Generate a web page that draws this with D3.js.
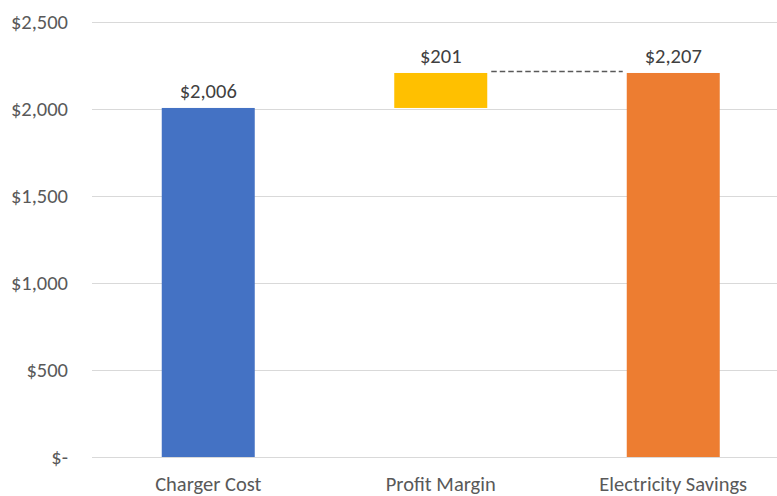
<!DOCTYPE html>
<html><head><meta charset="utf-8">
<script src="https://cdn.jsdelivr.net/npm/d3@7"></script>
<style>body{margin:0;background:#fff}svg{display:block}text{font-family:Calibri,Carlito,"Open Sans",sans-serif}</style>
</head><body>
<svg id="c" width="777" height="496"></svg>
<script>
const categories = ["Charger Cost", "Profit Margin", "Electricity Savings"];
const baseValues = [0, 2006, 0];
const barValues = [2006, 201, 2207];
const labels = ["$2,006", "$201", "$2,207"];
const colors = ["#4472C4", "#FFC000", "#ED7D31"];
const yTicks = [0, 500, 1000, 1500, 2000, 2500];
const yTickLabels = ["$-", "$500", "$1,000", "$1,500", "$2,000", "$2,500"];

const svg = d3.select("#c");
const y = d3.scaleLinear().domain([0, 2500]).range([457, 22]);
const x = d3.scaleBand().domain(categories).range([92, 789.5]).paddingInner(0.6).paddingOuter(0.3);
const fs = 20.5;

// gridlines
svg.append("g").selectAll("line").data(yTicks).join("line")
  .attr("x1", 92).attr("x2", 777)
  .attr("y1", d => Math.round(y(d)) + 0.5).attr("y2", d => Math.round(y(d)) + 0.5)
  .attr("stroke", "#d9d9d9").attr("stroke-width", 1);

// y labels
svg.append("g").selectAll("text").data(yTicks).join("text")
  .attr("x", 68).attr("y", d => y(d)).attr("dy", "0.35em")
  .attr("text-anchor", "end").attr("fill", "#595959").attr("font-size", fs)
  .text((d, i) => yTickLabels[i]);

// bars
svg.append("g").selectAll("rect").data(categories).join("rect")
  .attr("x", d => x(d)).attr("width", x.bandwidth())
  .attr("y", (d, i) => y(baseValues[i] + barValues[i]))
  .attr("height", (d, i) => y(baseValues[i]) - y(baseValues[i] + barValues[i]))
  .attr("fill", (d, i) => colors[i]);

// connector
const topVal = baseValues[1] + barValues[1];
svg.append("line")
  .attr("x1", x(categories[1]) + x.bandwidth() + 4).attr("x2", x(categories[2]) - 4)
  .attr("y1", y(topVal) - 1.5).attr("y2", y(topVal) - 1.5)
  .attr("stroke", "#595959").attr("stroke-width", 1.3).attr("stroke-dasharray", "5.5,3");

// data labels
svg.append("g").selectAll("text").data(categories).join("text")
  .attr("x", d => x(d) + x.bandwidth() / 2)
  .attr("y", (d, i) => y(baseValues[i] + barValues[i]) - 10)
  .attr("text-anchor", "middle").attr("fill", "#404040").attr("font-size", fs)
  .text((d, i) => labels[i]);

// category labels
svg.append("g").selectAll("text").data(categories).join("text")
  .attr("x", d => x(d) + x.bandwidth() / 2).attr("y", 491)
  .attr("text-anchor", "middle").attr("fill", "#595959").attr("font-size", fs)
  .text(d => d);
</script>
</body></html>
